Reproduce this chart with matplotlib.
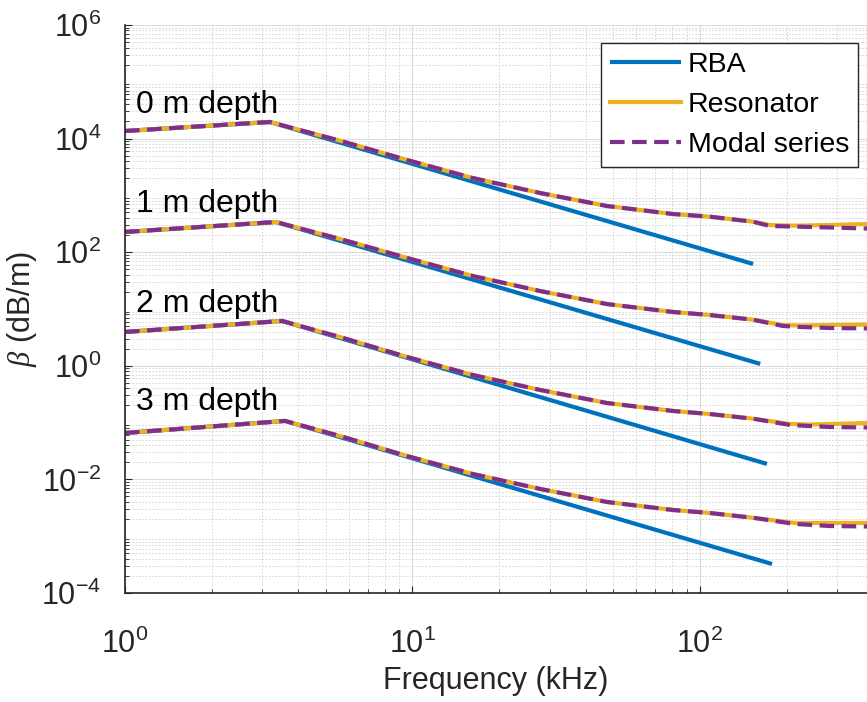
import numpy as np
import matplotlib.pyplot as plt

plt.rcParams['font.family'] = ['Liberation Sans', 'DejaVu Sans']
plt.rcParams['mathtext.fontset'] = 'custom'
plt.rcParams['mathtext.rm'] = 'Liberation Sans'
plt.rcParams['mathtext.it'] = 'Liberation Serif:italic'
plt.rcParams['axes.unicode_minus'] = False

# --- data (f in kHz, beta in dB/m) ---
depths = ["0 m depth", "1 m depth", "2 m depth", "3 m depth"]

# RBA: rise to a peak, then straight power-law fall
rba_f = [[1.0, 3.19, 153], [1.0, 3.35, 162], [1.0, 3.52, 171], [1.0, 3.60, 178]]
rba_b = [[1.36e4, 1.96e4, 62], [227, 340, 1.08], [3.94, 6.15, 0.0187], [0.0656, 0.107, 3.24e-4]]

# Resonator model
res_f = [[1.0, 3.19, 5.59, 9.57, 16.2, 27.8, 47.5, 80.6, 108, 153, 175, 211, 283, 381],
         [1.0, 3.35, 5.59, 9.57, 16.2, 27.8, 47.5, 80.6, 108, 153, 194, 223, 283, 381],
         [1.0, 3.52, 5.59, 9.57, 16.2, 27.8, 47.5, 80.6, 108, 153, 206, 241, 283, 381],
         [1.0, 3.60, 5.59, 9.57, 16.2, 27.8, 47.5, 80.6, 108, 153, 214, 250, 283, 381]]
res_b = [[1.36e4, 1.96e4, 9.18e3, 4.20e3, 2.02e3, 1.10e3, 650, 470, 422, 344, 301, 293, 301, 313],
         [227, 340, 171, 79.1, 38.1, 20.7, 12.2, 8.85, 7.84, 6.48, 5.22, 5.12, 5.22, 5.33],
         [3.94, 6.15, 3.21, 1.43, 0.689, 0.375, 0.221, 0.160, 0.1416, 0.117, 0.0944, 0.0925, 0.0944, 0.0984],
         [0.0656, 0.107, 0.0581, 0.0258, 0.01245, 6.78e-3, 4.00e-3, 2.89e-3, 2.56e-3, 2.11e-3,
          1.71e-3, 1.71e-3, 1.71e-3, 1.71e-3]]

# Modal series (sits on the resonator, slightly lower at high f)
mod_f = res_f
mod_b = [[1.36e4, 1.96e4, 9.18e3, 4.20e3, 2.02e3, 1.10e3, 650, 470, 422, 344, 289, 283, 272, 261],
         [227, 340, 171, 79.1, 38.1, 20.7, 12.2, 8.85, 7.84, 6.48, 5.02, 4.82, 4.63, 4.54],
         [3.94, 6.15, 3.21, 1.43, 0.689, 0.375, 0.221, 0.160, 0.1416, 0.117, 0.0907, 0.0871, 0.0836, 0.0820],
         [0.0656, 0.107, 0.0581, 0.0258, 0.01245, 6.78e-3, 4.00e-3, 2.89e-3, 2.56e-3, 2.11e-3,
          1.64e-3, 1.57e-3, 1.51e-3, 1.48e-3]]

label_b = [2.82e4, 511, 8.85, 0.1667]

c_rba = '#0072BD'
c_res = '#EDB120'
c_mod = '#7E2F8E'

fig = plt.figure(figsize=(8.67, 7.02), dpi=100)
ax = fig.add_axes([0.1442, 0.1553, 0.8558, 0.8091])

for i in range(4):
    ax.plot(rba_f[i], rba_b[i], color=c_rba, lw=3, solid_capstyle='butt',
            label='RBA' if i == 0 else None)
    ax.plot(res_f[i], res_b[i], color=c_res, lw=3,
            label='Resonator' if i == 0 else None)
    ax.plot(mod_f[i], mod_b[i], color=c_mod, lw=3, dashes=(3.5, 1.8),
            label='Modal series' if i == 0 else None)
    ax.text(1.09, label_b[i], depths[i], fontsize=23, va='baseline', ha='left')

ax.set_xscale('log')
ax.set_yscale('log')
ax.set_xlim(1, 10**2.581)
ax.set_ylim(1e-4, 1e6)
ax.set_yticks([1e-4, 1e-2, 1e0, 1e2, 1e4, 1e6])
ax.set_xticks([1, 10, 100])

ax.grid(True, which='major', color='#dcdcdc', lw=0.8, ls='-')
ax.grid(True, which='minor', color='#d0d0d0', lw=0.6, ls=(0, (2, 2)))
ax.set_axisbelow(True)

for s in ['top', 'right']:
    ax.spines[s].set_visible(False)
for s in ['left', 'bottom']:
    ax.spines[s].set_color('#262626')
    ax.spines[s].set_linewidth(1.2)

ax.tick_params(which='both', direction='in', colors='#262626', labelsize=22,
               top=False, right=False)
ax.tick_params(which='major', length=5)
ax.tick_params(which='minor', length=3)
ax.tick_params(axis='x', pad=26)
ax.tick_params(axis='y', pad=17)

ax.set_xlabel('Frequency (kHz)', fontsize=22, color='#262626', labelpad=4)
ax.set_ylabel(r'$\beta$ (dB/m)', fontsize=22, color='#262626', labelpad=2)

leg = ax.legend(loc='upper right', bbox_to_anchor=(858 / 867, 1 - 43 / 702),
                bbox_transform=fig.transFigure, borderaxespad=0, fontsize=20.5,
                fancybox=False, framealpha=1, edgecolor='#262626',
                handlelength=2.5, handletextpad=0.25, labelspacing=0.5,
                borderpad=0.3)
leg.get_frame().set_linewidth(1.0)

fig.savefig('out.png', dpi=100)
